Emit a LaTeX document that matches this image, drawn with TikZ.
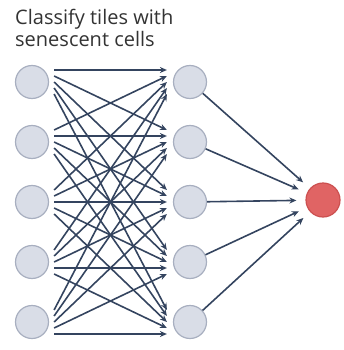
\documentclass[tikz,border=0pt]{standalone}
\usepackage{fontspec}
\setmainfont{Open Sans}
\usepackage{xcolor}
\usetikzlibrary{positioning,arrows.meta,calc}

\definecolor{cellfill}{HTML}{D9DDE7}
\definecolor{celldraw}{HTML}{A8AFC0}
\definecolor{wire}{HTML}{34445F}
\definecolor{hitfill}{HTML}{E06464}
\definecolor{hitdraw}{HTML}{CC5050}

\begin{document}
\begin{tikzpicture}[
  x=1pt, y=-1pt,
  cell/.style={circle, draw=celldraw, fill=cellfill, line width=1.2pt, minimum size=33pt, inner sep=0pt},
  hit/.style={circle, draw=hitdraw, fill=hitfill, line width=1.2pt, minimum size=34pt, inner sep=0pt},
  wirearrow/.style={-{Stealth[length=7pt,width=6pt]}, draw=wire, line width=1.6pt}
]
\useasboundingbox (0,0) rectangle (343,350);

\node[anchor=base west, align=left, text=black!80, font=\fontsize{20}{22}\selectfont, inner sep=0pt] (title) at (15,47) {Classify tiles with\\senescent cells};

% input and hidden layers
\foreach \i in {1,...,5} {
  \node[cell] (in\i) at (32,{22+60*\i}) {};
  \node[cell] (mid\i) at (190,{22+60*\i}) {};
}
\node[hit] (out) at (323,200) {};

% fully connected wires
\foreach \i in {1,...,5} {
  \foreach \j in {1,...,5} {
    \draw[wirearrow] ($(in\i.east)+(5,{6*(\j-3)})$) -- ($(mid\j.west)+(-6,{6*(\i-3)})$);
  }
}

% to the output
\foreach \i in {1,...,5} {
  \draw[wirearrow, shorten >=9pt] (mid\i) -- (out);
}
\end{tikzpicture}
\end{document}
